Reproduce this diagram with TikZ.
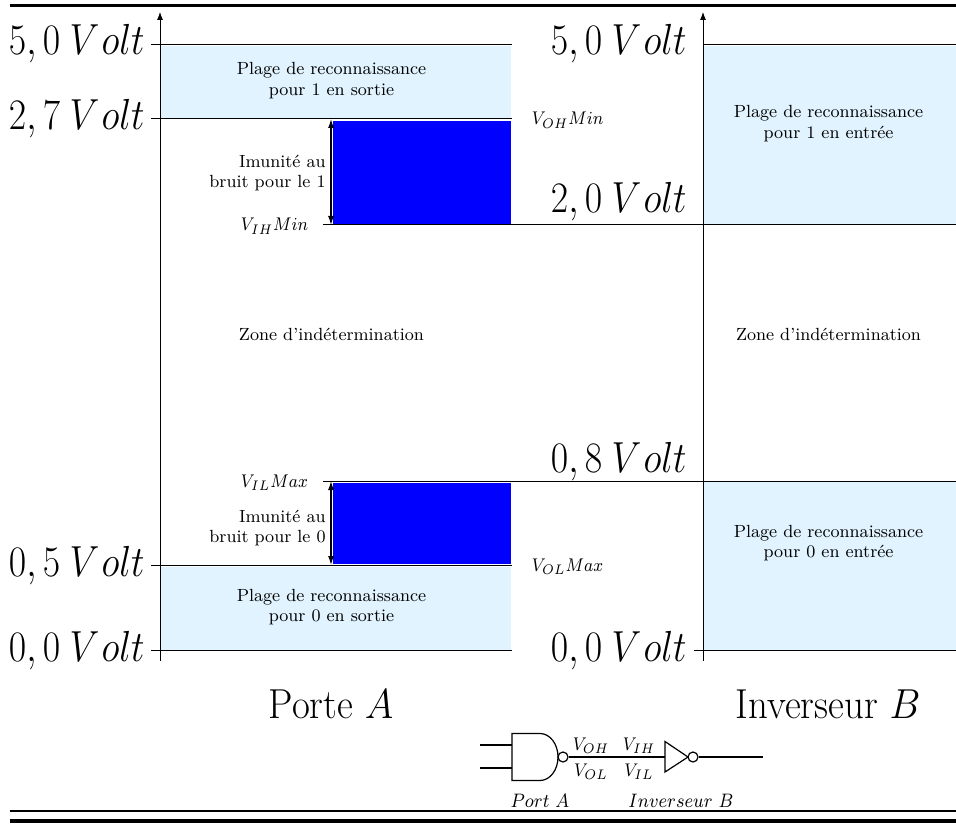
\RequirePackage{fix-cm}
\documentclass[tikz,border=0pt]{standalone}
\usepackage{graphicx}
\usetikzlibrary{arrows.meta}
\definecolor{zone}{RGB}{224,243,254}
\definecolor{noise}{RGB}{0,0,255}
\DeclareMathSizes{8.2}{8.2}{6.2}{5}
\DeclareMathSizes{8.7}{8.7}{6.2}{5}
\DeclareMathSizes{18.9}{18.9}{12}{10}
\DeclareMathSizes{19.4}{19.4}{12}{10}
\newcommand{\smalltxt}{\fontsize{8.8}{10.4}\selectfont}
\newcommand{\voltsize}{\fontsize{18.9}{22}\selectfont}
\newcommand{\titlesize}{\fontsize{19.4}{22}\selectfont}
\newcommand{\tallbox}[2]{\scalebox{1}[#1]{#2}}
\newcommand{\voltlabel}[1]{\tallbox{1.15}{$#1\mkern4.5mu V\mkern1mu olt$}}
\newcommand{\symlabel}[1]{\tallbox{1.12}{$#1$}}
\tikzset{
  x=0.5pt,y=-0.5pt,
  level/.style={line width=0.5pt},
  axis/.style={line width=0.4pt,-{Latex[length=4pt,width=3pt]}},
  span/.style={line width=0.6pt,{Latex[length=4.5pt,width=3pt]}-{Latex[length=4.5pt,width=3pt]}},
  rulebar/.style={line width=1.5pt},
  wire/.style={line width=0.6pt},
  txt/.style={inner sep=0pt,align=center,font=\smalltxt},
  rtxt/.style={inner sep=0pt,align=right,anchor=east,font=\smalltxt},
  volt/.style={inner sep=0pt,anchor=base east,font=\voltsize},
  title/.style={inner sep=0pt,font=\titlesize},
  sym/.style={inner sep=0pt,font=\fontsize{8.2}{10}\selectfont},
  symb/.style={inner sep=0pt,font=\fontsize{8.7}{10}\selectfont},
  bubble/.style={circle,draw,line width=0.6pt,inner sep=0pt,minimum size=5pt},
}
\begin{document}
\begin{tikzpicture}
\useasboundingbox (0,0) rectangle (956,823);
% light zones
\fill[zone] (160,46) rectangle (511,118);
\fill[zone] (160,567) rectangle (511,650);
\fill[zone] (703,46) rectangle (956,225);
\fill[zone] (703,482) rectangle (956,650);
% noise margins
\fill[noise] (333,121) rectangle (511,224);
\fill[noise] (333,483) rectangle (511,564);
% rules
\draw[rulebar] (9.5,6) -- (956,6);
\draw[line width=0.8pt] (9.5,811) -- (956,811);
\draw[line width=2.2pt] (9.5,821) -- (956,821);
% axes
\coordinate (a0) at (160,660.5); \coordinate (a1) at (160,12);
\coordinate (b0) at (703,660.5); \coordinate (b1) at (703,12);
\draw[axis] (a0) -- (a1);
\draw[axis] (b0) -- (b1);
% levels
\draw[level] (151,44.5) -- (512,44.5);
\draw[level] (151,119) -- (512,119);
\draw[level] (323,225) -- (956,225);
\draw[level] (323,481) -- (956,481);
\draw[level] (151,565.5) -- (512,565.5);
\draw[level] (151,650.5) -- (512,650.5);
\draw[level] (703,44.5) -- (956,44.5);
\draw[level] (694,650.5) -- (956,650.5);
% double arrows
\coordinate (s1a) at (331,119); \coordinate (s1b) at (331,225);
\coordinate (s0a) at (331,481); \coordinate (s0b) at (331,565);
\draw[span] (s1a) -- (s1b);
\draw[span] (s0a) -- (s0b);
% volts
\node[volt] (v50a) at (145,55) {\voltlabel{5,0}};
\node[volt] (v27a) at (145,130) {\voltlabel{2,7}};
\node[volt] (v05a) at (145,576.5) {\voltlabel{0,5}};
\node[volt] (v00a) at (145,661.5) {\voltlabel{0,0}};
\node[volt] (v50b) at (687,55) {\voltlabel{5,0}};
\node[volt] (v20b) at (687,213) {\voltlabel{2,0}};
\node[volt] (v08b) at (687,472) {\voltlabel{0,8}};
\node[volt] (v00b) at (687,661.5) {\voltlabel{0,0}};
% texts
\node[txt] (t1) at (331.5,81) {Plage de reconnaissance\\pour 1 en sortie};
\node[txt] (t2) at (331.5,607) {Plage de reconnaissance\\pour 0 en sortie};
\node[txt] (t3) at (828.5,124) {Plage de reconnaissance\\pour 1 en entrée};
\node[txt] (t4) at (828.5,543) {Plage de reconnaissance\\pour 0 en entrée};
\node[txt] (z1) at (331.5,334) {Zone d'indétermination};
\node[txt] (z2) at (828.5,334) {Zone d'indétermination};
\node[rtxt] (i1) at (326,173) {Imunité au\\bruit pour le 1};
\node[rtxt] (i0) at (326,528) {Imunité au\\bruit pour le 0};
\node[sym,anchor=base west] (m1) at (240.5,231) {\symlabel{V_{IH}Min}};
\node[sym,anchor=base west] (m2) at (240.5,487) {\symlabel{V_{IL}Max}};
\node[sym,anchor=base west] (m3) at (531.5,125) {\symlabel{V_{OH}Min}};
\node[sym,anchor=base west] (m4) at (531.5,571) {\symlabel{V_{OL}Max}};
\node[title] (pa) at (331,704) {\tallbox{1.08}{Porte $A$}};
\node[title] (ib) at (828,704) {\tallbox{1.08}{Inverseur $B$}};
% logic
\coordinate (in1a) at (480,745); \coordinate (in1b) at (512,745);
\coordinate (in2a) at (480,768); \coordinate (in2b) at (512,768);
\coordinate (out) at (763,757);
\draw[wire] (in1a) -- (in1b);
\draw[wire] (in2a) -- (in2b);
\draw[wire] (540,733.5) -- (512,733.5) -- (512,780.5) -- (540,780.5) arc[start angle=-90,end angle=90,x radius=18,y radius=-23.5];
\node[bubble] (nb) at (563,757) {};
\node[bubble] (ib2) at (693,757) {};
\draw[wire] (665,741.5) -- (665,772) -- (688,757) -- cycle;
\coordinate (invin) at (665,757);
\draw[wire] (nb) -- (invin);
\draw[wire] (ib2) -- (out);
\node[sym] (voh) at (591,746) {\symlabel{V_{OH}}};
\node[sym] (vih) at (639,746) {\symlabel{V_{IH}}};
\node[sym] (vol) at (591,772) {\symlabel{V_{OL}}};
\node[sym] (vil) at (639,772) {\symlabel{V_{IL}}};
\node[symb] (pra) at (540,801) {\symlabel{Port\ A}};
\node[symb] (inb) at (681,801) {\symlabel{Inverseur\ B}};
\end{tikzpicture}
\end{document}
